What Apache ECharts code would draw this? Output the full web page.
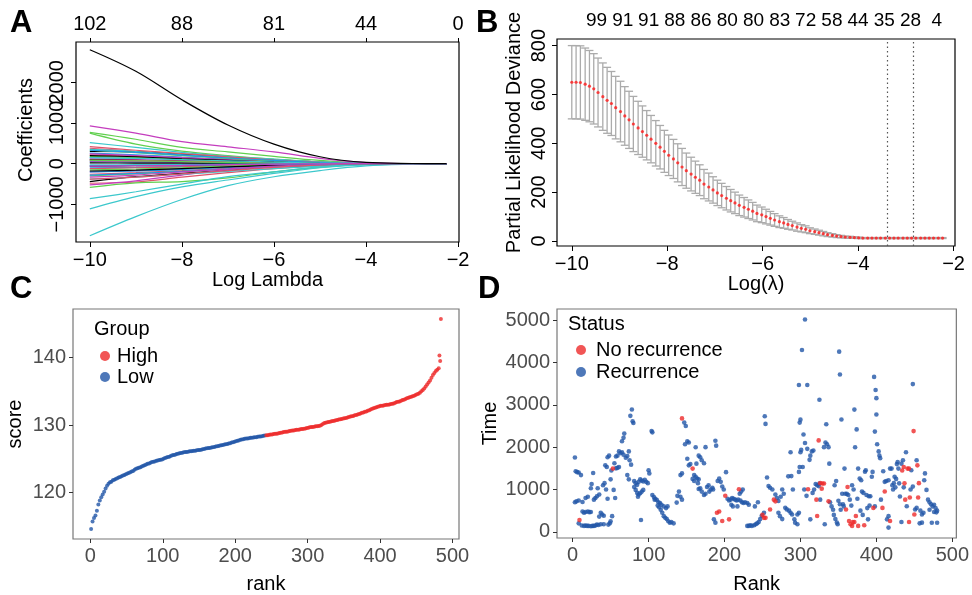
<!DOCTYPE html>
<html>
<head>
<meta charset="utf-8">
<title>LASSO risk model</title>
<script src="https://cdn.jsdelivr.net/npm/echarts/dist/echarts.min.js"></script>
<style>
  html, body { margin: 0; padding: 0; background: #fff; }
  #chart { width: 972px; height: 595px; }
</style>
</head>
<body>
<div id="chart"></div>
<script>
// ---------- panel A : coefficient paths ----------
var knotsA = [-10, -9, -8, -7, -6, -5, -4, -3, -2.25];
var topA_at = [-10, -8, -6, -4, -2];
var topA_labels = ['102', '88', '81', '44', '0'];
var coefTicksA = [-1000, 0, 1000, 2000];
var coefPaths = [
  [2800, 2270, 1570, 950, 480, 170, 30, 5, 0],
  [-480, -450, -330, -220, -120, -50, -10, 0, 0],
  [770, 600, 400, 290, 180, 80, 15, 0, 0],
  [150, 130, 100, 70, 40, 15, 3, 0, 0],
  [-1770, -1300, -880, -540, -320, -170, -55, -12, 0],
  [930, 750, 540, 415, 290, 130, 25, 3, 0],
  [-440, -320, -240, -160, -80, -30, -5, 0, 0],
  [380, 300, 220, 140, 70, 25, 5, 0, 0],
  [-580, -470, -440, -350, -200, -90, -20, 0, 0],
  [-100, -90, -70, -50, -30, -10, 0, 0, 0],
  [-1110, -810, -570, -400, -240, -100, -30, -5, 0],
  [120, 100, 80, 60, 30, 10, 0, 0, 0],
  [300, 290, 230, 150, 100, 40, 8, 0, 0],
  [-260, -220, -170, -110, -60, -20, -3, 0, 0],
  [750, 480, 310, 200, 110, 40, 5, 0, 0],
  [260, 220, 160, 110, 60, 20, 3, 0, 0],
  [-860, -690, -500, -320, -200, -80, -20, -3, 0],
  [-200, -170, -130, -80, -40, -10, 0, 0, 0],
  [100, 80, 60, 40, 20, 5, 0, 0, 0],
  [220, 180, 130, 90, 50, 15, 0, 0, 0],
  [-300, -250, -190, -130, -70, -25, -3, 0, 0],
  [50, 40, 30, 20, 10, 3, 0, 0, 0],
  [520, 400, 280, 180, 110, 45, 10, 0, 0],
  [-520, -420, -280, -150, -80, -30, -5, 0, 0],
  [-60, -50, -40, -25, -12, -3, 0, 0, 0],
  [-120, -100, -80, -50, -25, -8, 0, 0, 0],
  [180, 150, 110, 70, 35, 10, 0, 0, 0],
  [-200, -180, -140, -90, -50, -15, 0, 0, 0],
  [350, 300, 220, 150, 80, 30, 5, 0, 0],
  [60, 50, 40, 25, 12, 3, 0, 0, 0],
  [20, 15, 12, 8, 4, 0, 0, 0, 0],
  [420, 330, 250, 170, 90, 30, 5, 0, 0],
  [-150, -130, -100, -60, -30, -10, 0, 0, 0],
  [-280, -240, -190, -130, -70, -25, -3, 0, 0],
  [-380, -330, -260, -190, -120, -60, -15, 0, 0],
  [240, 200, 150, 100, 55, 18, 2, 0, 0],
  [-180, -160, -120, -80, -40, -12, 0, 0, 0],
  [90, 80, 60, 40, 20, 5, 0, 0, 0],
  [330, 270, 200, 130, 70, 20, 2, 0, 0],
  [330, 280, 210, 140, 80, 25, 3, 0, 0],
  [-30, -25, -20, -12, -6, 0, 0, 0, 0],
  [-330, -280, -200, -130, -60, -20, 0, 0, 0],
  [200, 170, 120, 80, 40, 10, 0, 0, 0],
  [-380, -330, -250, -170, -90, -30, -3, 0, 0],
  [80, 70, 50, 30, 15, 5, 0, 0, 0],
  [-50, -45, -35, -20, -10, -3, 0, 0, 0],
  [150, 130, 100, 70, 40, 15, 3, 0, 0],
  [-60, -50, -40, -25, -12, -3, 0, 0, 0]
];

// ---------- panel B : cross-validation curve ----------
var logLambdaB = [
  -10.00, -9.91, -9.82, -9.72, -9.63, -9.54, -9.45, -9.35, -9.26, -9.17,
  -9.08, -8.98, -8.89, -8.80, -8.71, -8.61, -8.52, -8.43, -8.34, -8.24,
  -8.15, -8.06, -7.97, -7.87, -7.78, -7.69, -7.60, -7.50, -7.41, -7.32,
  -7.23, -7.13, -7.04, -6.95, -6.86, -6.76, -6.67, -6.58, -6.49, -6.39,
  -6.30, -6.21, -6.12, -6.02, -5.93, -5.84, -5.75, -5.65, -5.56, -5.47,
  -5.38, -5.28, -5.19, -5.10, -5.01, -4.91, -4.82, -4.73, -4.64, -4.54,
  -4.45, -4.36, -4.27, -4.17, -4.08, -3.99, -3.90, -3.80, -3.71, -3.62,
  -3.53, -3.43, -3.34, -3.25, -3.16, -3.06, -2.97, -2.88, -2.79, -2.69,
  -2.60, -2.51, -2.42, -2.32, -2.23
];
var devianceB = [
  650, 650, 649, 642, 634, 623, 608, 591, 576, 563,
  546, 530, 512, 496, 479, 463, 448, 433, 417, 400,
  384, 367, 351, 336, 320, 303, 288, 274, 261, 249,
  233, 221, 209, 197, 186, 175, 165, 156, 146, 138,
  130, 122, 113, 107, 100, 93, 86, 79, 74, 68,
  63, 57, 52, 48, 42, 38, 34, 30, 26, 23,
  20, 18, 16, 15, 14, 13, 12, 12, 12, 12,
  12, 12, 12, 12, 12, 12, 12, 12, 12, 12,
  12, 12, 12, 12, 12
];
var seB = [
  150, 150, 150, 148, 146, 144, 141, 138, 135, 131,
  128, 124, 120, 117, 113, 109, 105, 101, 97, 93,
  89, 86, 83, 80, 78, 76, 72, 69, 66, 63,
  60, 57, 54, 52, 50, 48, 46, 44, 42, 40,
  38, 36, 34, 32, 30, 28, 26, 24, 22, 20,
  18, 17, 15, 14, 12, 11, 10, 9, 8, 7,
  6, 5, 4, 4, 3, 3, 2, 2, 2, 2,
  2, 2, 2, 2, 2, 2, 2, 2, 2, 2,
  2, 2, 2, 2, 2
];
var topB_at = [-9.48, -8.93, -8.39, -7.84, -7.29, -6.74, -6.19, -5.64, -5.10, -4.55, -4.00, -3.45, -2.90, -2.35];
var topB_labels = ['99', '91', '91', '88', '86', '80', '80', '83', '72', '58', '44', '35', '28', '4'];
var lambdaMin = -3.40, lambda1se = -2.84;

// ---------- panel C : risk score by rank (every second rank) ----------
var scoreLow = [ // ranks 1,3,...,241
  114.6, 115.7, 116.2, 116.6, 117.3, 118.2, 118.8, 119.3, 119.7, 120.1,
  120.6, 121.0, 121.3, 121.5, 121.6, 121.8, 121.9, 122.0, 122.1, 122.2,
  122.3, 122.4, 122.5, 122.6, 122.7, 122.8, 122.9, 123.0, 123.1, 123.2,
  123.35, 123.5, 123.6, 123.65, 123.75, 123.85, 123.95, 124.05, 124.15, 124.25,
  124.3, 124.4, 124.5, 124.55, 124.6, 124.7, 124.75, 124.8, 124.85, 124.9,
  125.0, 125.1, 125.2, 125.25, 125.3, 125.4, 125.5, 125.55, 125.6, 125.7,
  125.75, 125.8, 125.85, 125.9, 125.95, 126.0, 126.0, 126.05, 126.1, 126.1,
  126.15, 126.2, 126.2, 126.25, 126.3, 126.3, 126.35, 126.4, 126.45, 126.5,
  126.55, 126.6, 126.6, 126.65, 126.7, 126.75, 126.8, 126.85, 126.9, 126.95,
  127.0, 127.05, 127.1, 127.15, 127.2, 127.25, 127.3, 127.4, 127.45, 127.5,
  127.6, 127.65, 127.7, 127.8, 127.85, 127.9, 127.95, 128.0, 128.0, 128.05,
  128.1, 128.1, 128.15, 128.2, 128.2, 128.25, 128.3, 128.3, 128.35, 128.4,
  128.45
];
var scoreHigh = [ // ranks 243,245,...,483
  128.5, 128.5, 128.55, 128.6, 128.6, 128.65, 128.7, 128.7, 128.75, 128.8,
  128.85, 128.9, 128.95, 129.0, 129.0, 129.05, 129.1, 129.15, 129.2, 129.2,
  129.25, 129.3, 129.3, 129.35, 129.4, 129.4, 129.45, 129.5, 129.55, 129.6,
  129.65, 129.7, 129.7, 129.75, 129.8, 129.8, 129.85, 129.9, 130.0, 130.15,
  130.3, 130.35, 130.4, 130.45, 130.5, 130.55, 130.6, 130.65, 130.7, 130.75,
  130.8, 130.85, 130.9, 130.95, 131.0, 131.05, 131.1, 131.2, 131.25, 131.3,
  131.35, 131.45, 131.5, 131.55, 131.65, 131.7, 131.8, 131.85, 131.95, 132.0,
  132.1, 132.2, 132.3, 132.4, 132.5, 132.55, 132.65, 132.7, 132.8, 132.85,
  132.85, 132.9, 132.95, 133.0, 133.0, 133.05, 133.1, 133.15, 133.2, 133.3,
  133.4, 133.45, 133.5, 133.6, 133.7, 133.75, 133.85, 133.95, 134.05, 134.1,
  134.2, 134.25, 134.35, 134.45, 134.55, 134.65, 134.8, 135.0, 135.2, 135.4,
  135.7, 136.0, 136.3, 136.6, 137.0, 137.4, 137.7, 138.0, 138.2, 138.4,
  139.5
];
var highTopRanks = [482, 484];
var highTopScores = [140.3, 145.7];

// ---------- panel D : follow-up time by rank ----------
var recurrence = [
  [3,1757],[4,1430],[6,1410],[8,1400],[11,1340],[3,700],[5,720],[8,740],[8,200],[12,150],
  [15,140],[17,150],[19,140],[21,140],[24,130],[26,140],[28,140],[30,150],[32,170],[34,160],
  [37,180],[41,180],[13,480],[15,450],[17,470],[20,480],[22,465],[24,470],[13,705],[17,800],
  [20,830],[24,1030],[25,1130],[27,1390],[28,760],[30,800],[32,840],[35,880],[33,1030],[37,450],
  [39,410],[35,360],[41,380],[40,1100],[42,1150],[44,1000],[46,780],[47,170],[49,200],[50,250],
  [43,1570],[45,1530],[46,1760],[48,1800],[50,1240],[51,1450],[54,990],[52,370],[56,800],[57,1500],
  [59,1510],[61,1530],[55,1620],[57,1780],[59,1800],[61,1900],[63,1860],[65,1880],[67,1820],[65,2140],
  [67,2220],[68,2320],[70,1750],[72,1790],[74,1900],[75,1690],[77,1587],[76,2740],[78,2890],[79,2610],
  [80,2570],[72,1340],[74,1240],[81,1200],[83,1150],[85,1110],[87,1180],[89,1240],[91,1210],[93,1190],
  [95,1230],[97,1180],[99,1150],[81,1060],[83,990],[85,920],[87,880],[89,910],[91,950],[93,990],
  [86,830],[90,279],[100,1455],[101,1380],[104,2380],[105,2350],[105,870],[107,820],[109,780],[111,750],
  [113,700],[115,680],[117,640],[108,760],[112,620],[114,580],[116,520],[118,450],[120,370],[122,330],
  [124,300],[126,250],[128,215],[130,230],[133,200],[120,600],[123,560],[125,600],[137,690],[138,850],
  [140,950],[142,830],[144,760],[142,1340],[144,1380],[147,2580],[149,2500],[148,2070],[151,2140],[153,2110],
  [151,1725],[153,1570],[155,1600],[160,1340],[162,1300],[164,1260],[166,1240],[162,1997],[166,1800],[168,1760],
  [170,1690],[173,1620],[175,2000],[166,1010],[168,1030],[170,950],[173,870],[177,1060],[179,1100],[182,1000],
  [184,1040],[188,2150],[189,2036],[186,295],[188,217],[193,1260],[195,1180],[197,1070],[199,1000],[202,1410],
  [160,1200],[158,1250],[165,1150],[175,900],[180,950],[185,1000],[191,1200],[163,1610],
  [204,780],[206,740],[208,760],[210,800],[212,780],[214,760],[216,740],[218,760],[221,740],[223,700],
  [225,680],[227,700],[230,680],[232,640],[209,640],[211,600],[217,600],[222,950],[224,1000],[220,900],
  [230,140],[232,140],[234,155],[236,140],[239,155],[241,180],[243,200],[245,230],[240,600],[244,700],
  [247,300],[249,380],[252,450],[253,2730],[254,2550],[256,1285],[258,1080],[260,1040],[263,1000],[267,880],
  [269,800],[271,730],[274,830],[271,450],[273,370],[276,300],[276,1000],[278,900],[280,570],[282,530],
  [285,500],[287,450],[289,410],[288,1316],[292,295],[293,217],[296,180],[296,410],[298,450],[298,1416],
  [299,1530],[300,1880],[301,1935],[299,2580],[300,2650],[298,3467],[302,4296],[306,5016],[304,2300],[306,2100],
  [309,1960],[303,1530],[305,1000],[308,850],[309,3467],[287,1880],[284,1310],[290,1000],
  [313,1800],[315,1900],[317,1920],[312,1700],[313,295],[316,920],[318,1000],[320,1130],[322,1100],[324,1080],
  [325,1140],[325,3120],[326,760],[331,2000],[333,2110],[335,2070],[337,2000],[332,178],[334,2540],[338,1610],
  [339,700],[341,600],[343,520],[345,1100],[347,1200],[348,220],[349,180],[350,735],[351,4257],[352,3715],
  [354,2655],[355,900],[356,650],[357,600],[358,1494],[361,900],[363,870],[368,1100],[370,1000],[371,2887],
  [372,1997],[374,2420],[376,1494],[378,1260],[380,1220],[381,950],[383,920],[385,1420],[386,1455],[387,870],
  [390,840],[392,840],[389,295],[394,1300],[395,1415],[398,600],[397,3660],[399,3350],[400,3158],[398,2368],
  [400,2770],[401,2070],[403,1900],[405,1740],[404,1800],[344,400],[346,300],[352,650],[353,520],[359,900],
  [365,760],[367,620],[375,780],[379,500],[382,400],[388,560],[391,620],
  [406,760],[409,1430],[411,1180],[413,1200],[416,1220],[414,295],[416,370],[416,100],[418,1494],[420,1494],
  [421,1100],[423,1150],[424,1300],[426,1250],[427,1600],[428,1650],[429,1494],[430,1145],[431,836],[433,232],
  [433,1610],[435,1690],[439,1880],[440,603],[446,1455],[448,1068],[448,3490],[451,526],[453,565],[453,1690],
  [457,200],[460,217],[460,410],[462,450],[463,1220],[464,1380],[466,990],[468,760],[470,700],[472,650],
  [474,600],[476,640],[478,560],[480,500],[479,460],[476,470],[473,215],[480,215],[422,1000],[425,1050],
  [436,1050],[445,1000],[458,500],[470,520]
];
var noRecurrence = [
  [9,279],[53,1494],[144,2680],[158,1494],[190,450],[193,480],[197,255],[201,851],[206,295],[219,1005],
  [250,400],[252,330],[254,330],[260,526],[265,760],[267,720],[310,1006],[321,760],[322,372],[324,2160],
  [326,1150],[329,1140],[331,1140],[328,1020],[337,720],[360,526],[362,1060],[364,255],[366,180],[368,140],
  [369,230],[371,230],[373,372],[376,140],[384,155],[396,565],[408,565],[411,952],[418,255],[434,1450],
  [436,1530],[437,1145],[438,760],[441,1494],[443,1494],[443,232],[444,812],[449,2380],[450,410],[454,1570],
  [455,812],[456,1150]
];

// ---------- chart ----------
var FONT = '"Liberation Sans", Arial, Helvetica, sans-serif';
var rPalette = ['#000000', '#DF536B', '#61D04F', '#2297E6', '#3CC8CC', '#C43DBE'];
var RED = '#EE2A2A', BLUE = '#2256A8';
var MINUS = '\u2212';
var FS = 20;

function num(v) { return v < 0 ? MINUS + Math.abs(v) : String(v); }
function plain(v) { return String(v); }
function lookup(at, labels) {
  return function (v) {
    for (var i = 0; i < at.length; i++) if (Math.abs(at[i] - v) < 1e-6) return labels[i];
    return '';
  };
}

var chart = echarts.init(document.getElementById('chart'));

var baseLabel = { fontFamily: FONT, fontSize: FS, color: '#000' };
var ggLabel = { fontFamily: FONT, fontSize: FS, color: '#4D4D4D' };
var noLine = { show: false, onZero: false };

var series = [];
coefPaths.forEach(function (path, i) {
  series.push({
    type: 'line', xAxisIndex: 0, yAxisIndex: 0,
    data: knotsA.map(function (x, j) { return [x, path[j]]; }),
    showSymbol: false, smooth: 0.35, silent: true,
    lineStyle: { width: 1.2, color: rPalette[i % 6] },
    itemStyle: { color: rPalette[i % 6] },
    z: 2 + (i === 0 ? 50 : 0)
  });
});

series.push({
  type: 'custom', xAxisIndex: 2, yAxisIndex: 1, silent: true,
  data: logLambdaB.map(function (x, i) { return [x, devianceB[i] - seB[i], devianceB[i] + seB[i]]; }),
  encode: { x: 0, y: [1, 2] },
  renderItem: function (params, api) {
    var x = api.value(0);
    var lo = api.coord([x, api.value(1)]);
    var hi = api.coord([x, api.value(2)]);
    var w = 4;
    var st = { stroke: '#ABABAB', lineWidth: 1.3 };
    return { type: 'group', children: [
      { type: 'line', shape: { x1: lo[0], y1: lo[1], x2: hi[0], y2: hi[1] }, style: st },
      { type: 'line', shape: { x1: hi[0] - w, y1: hi[1], x2: hi[0] + w, y2: hi[1] }, style: st },
      { type: 'line', shape: { x1: lo[0] - w, y1: lo[1], x2: lo[0] + w, y2: lo[1] }, style: st }
    ] };
  }
});
series.push({
  type: 'scatter', xAxisIndex: 2, yAxisIndex: 1, silent: true,
  data: logLambdaB.map(function (x, i) { return [x, devianceB[i]]; }),
  symbolSize: 3.2, itemStyle: { color: '#FF1A1A' },
  markLine: {
    silent: true, symbol: 'none', label: { show: false },
    lineStyle: { type: [1.5, 3], color: '#555', width: 1.2 },
    data: [{ xAxis: lambdaMin }, { xAxis: lambda1se }]
  }
});

series.push({
  name: 'Low', type: 'scatter', xAxisIndex: 4, yAxisIndex: 2, silent: true,
  data: scoreLow.map(function (s, i) { return [1 + 2 * i, s]; }),
  symbolSize: 4, itemStyle: { color: BLUE }
});
series.push({
  name: 'High', type: 'scatter', xAxisIndex: 4, yAxisIndex: 2, silent: true,
  data: scoreHigh.map(function (s, i) { return [243 + 2 * i, s]; })
    .concat(highTopRanks.map(function (r, i) { return [r, highTopScores[i]]; })),
  symbolSize: 4, itemStyle: { color: RED }
});

series.push({
  name: 'Recurrence', type: 'scatter', xAxisIndex: 5, yAxisIndex: 3, silent: true,
  data: recurrence, symbolSize: 4.6, itemStyle: { color: BLUE }
});
series.push({
  name: 'No recurrence', type: 'scatter', xAxisIndex: 5, yAxisIndex: 3, silent: true,
  data: noRecurrence, symbolSize: 4.6, itemStyle: { color: RED }, z: 5
});

var letter = { fontFamily: FONT, fontSize: 31, fontWeight: 'bold', color: '#000' };
var legendTitle = { fontFamily: FONT, fontSize: FS, fontWeight: 'normal', color: '#000' };

function ticks(vals, color, len) {
  return { customValues: vals, length: len, lineStyle: { color: color, width: 1 } };
}
function labels(vals, style, extra) {
  return Object.assign({ customValues: vals, interval: 0, hideOverlap: false,
    showMinLabel: true, showMaxLabel: true }, style, extra);
}

// A's rotated y labels touch each other, so they are split over two
// overlaid axes to keep ECharts from dropping every other one
var coefLabelsOdd = coefTicksA.filter(function (v, i) { return i % 2 === 0; });
var coefLabelsEven = coefTicksA.filter(function (v, i) { return i % 2 === 1; });

var option = {
  backgroundColor: '#fff',
  animation: false,
  title: [
    { text: 'A', left: 10, top: 8, padding: 0, textStyle: letter },
    { text: 'B', left: 476, top: 8, padding: 0, textStyle: letter },
    { text: 'C', left: 10, top: 274, padding: 0, textStyle: letter },
    { text: 'D', left: 478, top: 274, padding: 0, textStyle: letter },
    { text: 'Group', left: 94, top: 319, padding: 0, textStyle: legendTitle },
    { text: 'Status', left: 568, top: 314, padding: 0, textStyle: legendTitle }
  ],
  legend: [
    { data: ['High', 'Low'], orient: 'vertical', left: 100, top: 346, padding: 0,
      itemGap: 1, itemWidth: 10, itemHeight: 10, icon: 'circle', selectedMode: false,
      textStyle: { fontFamily: FONT, fontSize: FS, color: '#000', padding: [0, 0, 0, 2] } },
    { data: ['No recurrence', 'Recurrence'], orient: 'vertical', left: 576, top: 340, padding: 0,
      itemGap: 2, itemWidth: 10, itemHeight: 10, icon: 'circle', selectedMode: false,
      textStyle: { fontFamily: FONT, fontSize: FS, color: '#000', padding: [0, 0, 0, 5] } }
  ],
  grid: [
    { left: 76, top: 42, width: 383, height: 200, show: true, borderColor: '#000', borderWidth: 1.2 },
    { left: 557, top: 39, width: 398, height: 207, show: true, borderColor: '#000', borderWidth: 1.2 },
    { left: 73, top: 309, width: 386, height: 237, show: true, borderColor: '#777', borderWidth: 1.2 },
    { left: 557, top: 309, width: 400, height: 233, show: true, borderColor: '#777', borderWidth: 1.2 }
  ],
  xAxis: [
    { gridIndex: 0, type: 'value', min: -10.3, max: -1.98,
      axisLine: noLine, splitLine: { show: false },
      axisTick: ticks(topA_at, '#000', 5),
      axisLabel: labels(topA_at, baseLabel, { formatter: num, margin: 8 }),
      name: 'Log Lambda', nameLocation: 'middle', nameGap: 27, nameTextStyle: baseLabel },
    { gridIndex: 0, type: 'value', position: 'top', min: -10.3, max: -1.98,
      axisLine: noLine, splitLine: { show: false },
      axisTick: ticks(topA_at, '#000', 4),
      axisLabel: labels(topA_at, baseLabel, { formatter: lookup(topA_at, topA_labels), margin: 8 }) },
    { gridIndex: 1, type: 'value', min: -10.31, max: -1.97,
      axisLine: noLine, splitLine: { show: false },
      axisTick: ticks(topA_at, '#000', 5),
      axisLabel: labels(topA_at, baseLabel, { formatter: num, margin: 8 }),
      name: 'Log(λ)', nameLocation: 'middle', nameGap: 24, nameTextStyle: baseLabel },
    { gridIndex: 1, type: 'value', position: 'top', min: -10.31, max: -1.97,
      axisLine: noLine, splitLine: { show: false }, axisTick: { show: false },
      axisLabel: labels(topB_at, baseLabel, { formatter: lookup(topB_at, topB_labels), margin: 9, fontSize: 19 }) },
    { gridIndex: 2, type: 'value', min: -24, max: 509,
      axisLine: noLine, splitLine: { show: false },
      axisTick: ticks([0, 100, 200, 300, 400, 500], '#333', 4),
      axisLabel: labels([0, 100, 200, 300, 400, 500], ggLabel, { formatter: plain, margin: 7 }),
      name: 'rank', nameLocation: 'middle', nameGap: 35, nameTextStyle: baseLabel },
    { gridIndex: 3, type: 'value', min: -20.6, max: 505.3,
      axisLine: noLine, splitLine: { show: false },
      axisTick: ticks([0, 100, 200, 300, 400, 500], '#333', 4),
      axisLabel: labels([0, 100, 200, 300, 400, 500], ggLabel, { formatter: plain, margin: 7 }),
      name: 'Rank', nameLocation: 'middle', nameGap: 36, nameTextStyle: baseLabel }
  ],
  yAxis: [
    { gridIndex: 0, type: 'value', position: 'left', min: -1924, max: 2990,
      axisLine: noLine, splitLine: { show: false },
      axisTick: ticks(coefTicksA, '#000', 5),
      axisLabel: labels(coefLabelsOdd, baseLabel, { formatter: num, rotate: 90, margin: 9 }),
      name: 'Coefficients', nameLocation: 'middle', nameGap: 40,
      nameTextStyle: Object.assign({ padding: [0, 0, 0, 24] }, baseLabel) },
    { gridIndex: 1, type: 'value', min: -20.5, max: 827,
      axisLine: noLine, splitLine: { show: false },
      axisTick: ticks([0, 200, 400, 600, 800], '#000', 5),
      axisLabel: labels([0, 200, 400, 600, 800], baseLabel, { formatter: plain, rotate: 90, margin: 8 }),
      name: 'Partial Likelihood Deviance', nameLocation: 'middle', nameGap: 33,
      nameTextStyle: Object.assign({ padding: [0, 0, 0, 20] }, baseLabel) },
    { gridIndex: 2, type: 'value', min: 113.1, max: 147.2,
      axisLine: noLine, splitLine: { show: false },
      axisTick: ticks([120, 130, 140], '#333', 4),
      axisLabel: labels([120, 130, 140], ggLabel, { formatter: plain, margin: 7 }),
      name: 'score', nameLocation: 'middle', nameGap: 48, nameTextStyle: baseLabel },
    { gridIndex: 3, type: 'value', min: -146, max: 5264,
      axisLine: noLine, splitLine: { show: false },
      axisTick: ticks([0, 1000, 2000, 3000, 4000, 5000], '#333', 4),
      axisLabel: labels([0, 1000, 2000, 3000, 4000, 5000], ggLabel, { formatter: plain, margin: 7 }),
      name: 'Time', nameLocation: 'middle', nameGap: 57, nameTextStyle: baseLabel },
    { gridIndex: 0, type: 'value', position: 'left', offset: 0, min: -1924, max: 2990,
      axisLine: noLine, splitLine: { show: false }, axisTick: { show: false },
      axisLabel: labels(coefLabelsEven, baseLabel, { formatter: num, rotate: 90, margin: 9 }) }
  ],
  series: series
};

chart.setOption(option);
</script>
</body>
</html>
